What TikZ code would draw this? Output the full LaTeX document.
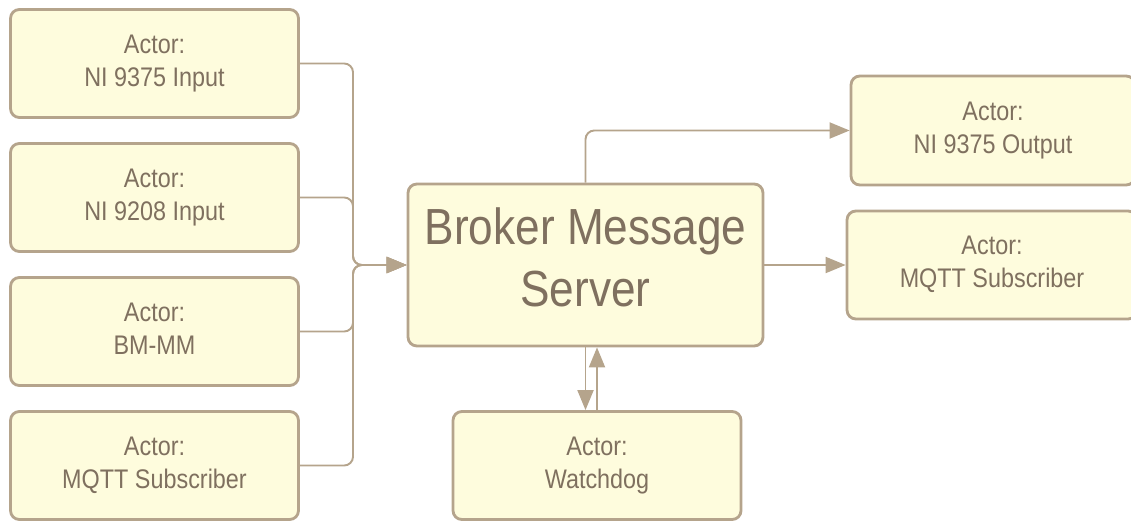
\documentclass[tikz,border=0pt]{standalone}
\usepackage{fontspec}
\setmainfont[FakeStretch=0.87]{Liberation Sans}
\usetikzlibrary{arrows.meta}
\definecolor{actorfill}{HTML}{FEFCDD}
\definecolor{actorline}{HTML}{B5A48C}
\definecolor{actortext}{HTML}{7F705F}
\begin{document}
\begin{tikzpicture}[x=0.02cm,y=-0.02cm,
    actor/.style={draw=actorline,fill=actorfill,line width=1.6pt,rounded corners=5pt,
      text=actortext,align=center,minimum width=5.76cm,minimum height=2.16cm,inner sep=0pt,
      font=\fontsize{15.3}{18.7}\selectfont,
      execute at end node={\rule[-0.12cm]{0pt}{0pt}}},
    big/.style={minimum width=7.1cm,minimum height=3.24cm,font=\fontsize{28.9}{35.7}\selectfont,
      execute at end node={\rule[-0.32cm]{0pt}{0pt}}},
    conn/.style={draw=actorline,line width=1.1pt,rounded corners=5pt},
    arr/.style={conn,-{Triangle[length=0.4cm,width=0.32cm]}}]
    \useasboundingbox (0,0) rectangle (1131,520);
    \node[actor] (in1) at (154.5,63.5) {Actor:\\NI 9375 Input};
    \node[actor] (in2) at (154.5,197.5) {Actor:\\NI 9208 Input};
    \node[actor] (in3) at (154.5,331.5) {Actor:\\BM-MM};
    \node[actor] (in4) at (154.5,465.5) {Actor:\\MQTT Subscriber};
    \node[actor,big] (broker) at (585.5,265) {Broker Message\\Server};
    \node[actor] (wd) at (597,465.5) {Actor:\\Watchdog};
    \node[actor,minimum width=5.68cm,minimum height=2.18cm] (out1) at (993,130.5) {Actor:\\NI 9375 Output};
    \node[actor,minimum width=5.8cm] (out2) at (992,265) {Actor:\\MQTT Subscriber};
    \coordinate (bus) at (353,265);
    \draw[arr] (in1.east) -| (bus) -- (broker.west);
    \draw[arr] (in2.east) -| (bus) -- (broker.west);
    \draw[arr] (in3.east) -| (bus) -- (broker.west);
    \draw[arr] (in4.east) -| (bus) -- (broker.west);
    \draw[arr] (broker.north) |- (out1.west);
    \draw[arr] (broker.east) -- (out2.west);
    \draw[arr] (broker.south) -- (broker.south |- wd.north);
    \draw[arr] (wd.north) -- (wd.north |- broker.south);
\end{tikzpicture}
\end{document}
